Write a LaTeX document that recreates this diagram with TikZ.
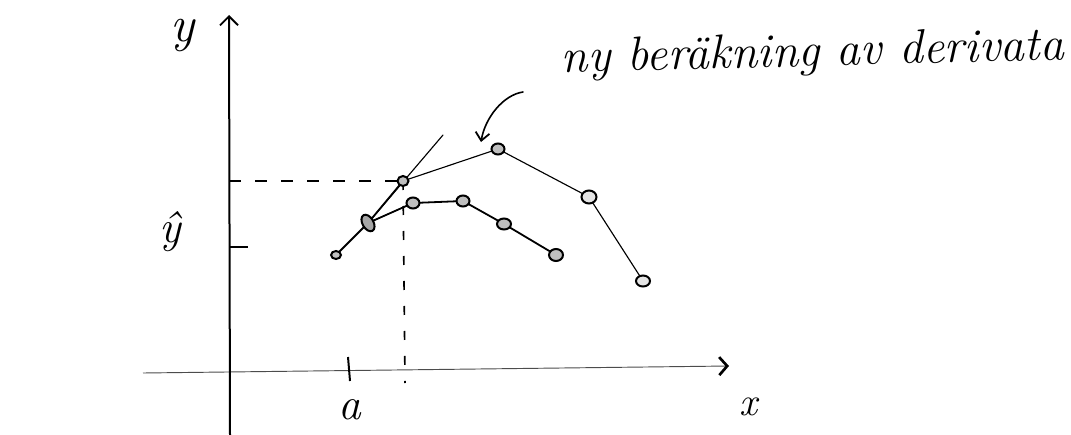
\documentclass[tikz,border=0pt]{standalone}
\usepackage{fontspec}
\usetikzlibrary{arrows.meta,shapes.geometric}
\tikzset{
  pt/.style={ellipse,draw=black,fill=gray!50,line width=1.5pt,inner sep=0pt,minimum width=8.25pt,minimum height=6.75pt},
  thickcurve/.style={line width=1.35pt,line cap=round},
  thincurve/.style={line width=0.85pt,line cap=round},
  axisy/.style={line width=1.5pt,-{Straight Barb[length=6.75pt,width=13.5pt,line width=1.35pt]}},
  axisx/.style={line width=0.7pt,draw=black!70,-{Straight Barb[length=6pt,width=13.5pt,line width=2pt,color=black]}},
  guide/.style={line width=0.9pt,dash pattern=on 9pt off 10.5pt},
  vguide/.style={line width=1.2pt,dash pattern=on 6.75pt off 12pt},
  tickmark/.style={line width=1.5pt},
  lbl/.style={font=\itshape\fontsize{34}{36}\selectfont,inner sep=0pt},
  note/.style={font=\itshape\fontsize{36}{38}\selectfont,inner sep=0pt}
}
\begin{document}
\begin{tikzpicture}[x=0.75pt,y=-0.75pt]
\useasboundingbox (0,0) rectangle (1071,435);
% axes
\coordinate (ybot) at (230,435);
\coordinate (ytop) at (229,15);
\coordinate (xl) at (143,373);
\coordinate (xr) at (729,366);
\draw[axisx] (xl) -- (xr);
\draw[axisy] (ybot) -- (ytop);
% points
\coordinate (pA) at (336,255);
\coordinate (pB) at (368,223);
\coordinate (pC) at (403,181);
\coordinate (pD) at (413,203);
\coordinate (pE) at (463,201);
\coordinate (pF) at (504,224);
\coordinate (pG) at (556,255);
\coordinate (pH) at (498,149);
\coordinate (pI) at (589,197);
\coordinate (pJ) at (643,281);
\coordinate (tEnd) at (443,135);
% guides
\coordinate (yC) at (229,181);
\coordinate (yH) at (229,247);
\coordinate (yHt) at (248,247);
\coordinate (xDb) at (405,383);
\coordinate (aT) at (348,357);
\coordinate (aB) at (350,381);
\draw[guide] (yC) -- (pC);
\draw[vguide] (pC) -- (xDb);
\draw[tickmark] (yH) -- (yHt);
\draw[tickmark] (aT) -- (aB);
% curves
\draw[thickcurve] (pA) -- (pB) -- (pD) -- (pE) -- (pF) -- (pG);
\draw[thincurve] (pC) -- (pH) -- (pI) -- (pJ);
\draw[thincurve] (pB) -- (tEnd);
\draw[line width=1.35pt] (pB) -- (pC);
% point markers
\node[pt,minimum width=7.5pt,minimum height=6pt] (A) at (pA) {};
\node[pt,minimum width=13.5pt,minimum height=8.25pt,rotate=-60,fill=gray!70] (B) at (pB) {};
\node[pt,minimum width=8.25pt,minimum height=7.5pt] (C) at (pC) {};
\node[pt,minimum width=9.75pt,minimum height=8.25pt] (D) at (pD) {};
\node[pt,minimum width=9.75pt,minimum height=8.25pt] (E) at (pE) {};
\node[pt,minimum width=10.5pt,minimum height=8.25pt] (F) at (pF) {};
\node[pt,minimum width=10.5pt,minimum height=9pt] (G) at (pG) {};
\node[pt,minimum width=9.75pt,minimum height=8.25pt] (H) at (pH) {};
\node[pt,minimum width=11.25pt,minimum height=9.75pt,fill=gray!20] (I) at (pI) {};
\node[pt,minimum width=10.5pt,minimum height=8.25pt,fill=gray!20] (J) at (pJ) {};
% labels
\node[lbl,font=\itshape\fontsize{38}{40}\selectfont] (ylab) at (183,35) {y};
\node[lbl] (yhat) at (170,232) {ŷ};
\node[lbl] (alab) at (350,410) {a};
\node[lbl,font=\itshape\fontsize{30}{32}\selectfont] (xlab) at (748,407) {x};
% annotation
\node[note,anchor=base,rotate=1.5] (note) at (813,66) {ny beräkning av derivata};
\coordinate (arS) at (523,92);
\coordinate (arE) at (481,142);
\draw[line width=1.2pt,line cap=round,-{Straight Barb[length=6pt,width=10.5pt,line width=1.35pt]}] (arS) .. controls (503,95) and (485,118) .. (arE);
\end{tikzpicture}
\end{document}
